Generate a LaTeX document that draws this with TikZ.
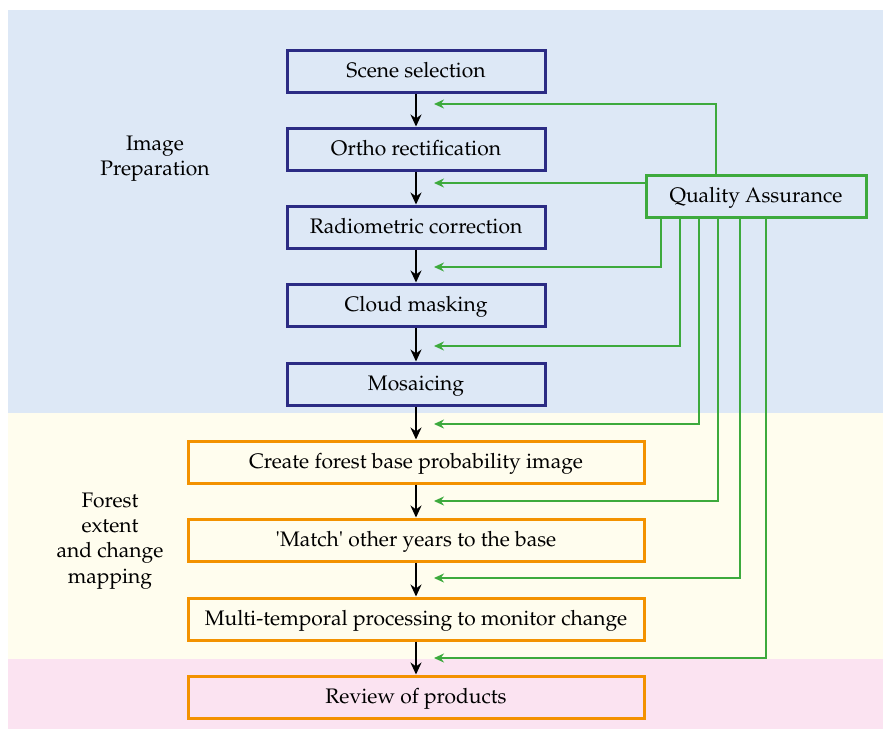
\documentclass[tikz,border=0pt]{standalone}
\usepackage[T1]{fontenc}
\usepackage{mathpazo}
\usepackage{textcomp}
\usetikzlibrary{arrows.meta}

\definecolor{prepblue}{RGB}{221,232,246}
\definecolor{forestyellow}{RGB}{255,253,238}
\definecolor{reviewpink}{RGB}{251,227,241}
\definecolor{stepnavy}{RGB}{43,43,132}
\definecolor{steporange}{RGB}{243,146,0}
\definecolor{qagreen}{RGB}{61,170,61}

\tikzset{
    stepbox/.style={line width=1.5pt, minimum height=21pt, inner sep=0pt, text height=8.5pt, text depth=2.5pt},
    prepbox/.style={stepbox, draw=stepnavy, minimum width=129pt},
    forestbox/.style={stepbox, draw=steporange, minimum width=228pt},
    qabox/.style={stepbox, draw=qagreen, minimum width=110pt},
    flow/.style={-{Stealth[length=6pt,width=5.5pt]}, line width=0.9pt},
    qaline/.style={-{Stealth[length=5pt,width=4.5pt]}, draw=qagreen, line width=0.75pt},
    phase/.style={align=center}
}

\begin{document}
\begin{tikzpicture}[x=0.5pt, y=-0.5pt, font=\fontsize{10.5}{12.6}\selectfont]
    \useasboundingbox (0,0) rectangle (883,729);
    % background bands
    \fill[prepblue] (8,10) rectangle (883,413);
    \fill[forestyellow] (8,413) rectangle (883,659);
    \fill[reviewpink] (8,659) rectangle (883,729);

    \node[phase] (prep) at (155,159) {Image\\Preparation};
    \node[phase] (forest) at (110,541) {Forest\\extent\\and change\\mapping};

    % processing chain
    \node[prepbox] (scene) at (416,71) {Scene selection};
    \node[prepbox] (ortho) at (416,149) {Ortho rectification};
    \node[prepbox] (radio) at (416,227) {Radiometric correction};
    \node[prepbox] (cloud) at (416,305) {Cloud masking};
    \node[prepbox] (mosaic) at (416,384) {Mosaicing};
    \node[forestbox] (base) at (416,462) {Create forest base probability image};
    \node[forestbox] (match) at (416,540) {\textquotesingle Match\textquotesingle\ other years to the base};
    \node[forestbox] (multi) at (416,619) {Multi-temporal processing to monitor change};
    \node[forestbox] (review) at (416,697) {Review of products};

    \node[qabox] (qa) at (756,196) {Quality Assurance};

    \draw[flow] (scene) -- (ortho);
    \draw[flow] (ortho) -- (radio);
    \draw[flow] (radio) -- (cloud);
    \draw[flow] (cloud) -- (mosaic);
    \draw[flow] (mosaic) -- (base);
    \draw[flow] (base) -- (match);
    \draw[flow] (match) -- (multi);
    \draw[flow] (multi) -- (review);

    % feedback from quality assurance
    \coordinate (q1) at (434,104);
    \coordinate (q2) at (434,183);
    \coordinate (q3) at (434,267);
    \coordinate (q4) at (434,346);
    \coordinate (q5) at (434,424);
    \coordinate (q6) at (434,501);
    \coordinate (q7) at (434,578);
    \coordinate (q8) at (434,658);
    \coordinate (t1) at (716,0);
    \coordinate (t3) at (661,0);
    \coordinate (t4) at (680,0);
    \coordinate (t5) at (699,0);
    \coordinate (t6) at (718,0);
    \coordinate (t7) at (740,0);
    \coordinate (t8) at (766,0);

    \draw[qaline] (qa.north -| t1) |- (q1);
    \draw[qaline] (qa.west |- q2) -- (q2);
    \draw[qaline] (qa.south -| t3) |- (q3);
    \draw[qaline] (qa.south -| t4) |- (q4);
    \draw[qaline] (qa.south -| t5) |- (q5);
    \draw[qaline] (qa.south -| t6) |- (q6);
    \draw[qaline] (qa.south -| t7) |- (q7);
    \draw[qaline] (qa.south -| t8) |- (q8);
\end{tikzpicture}
\end{document}
